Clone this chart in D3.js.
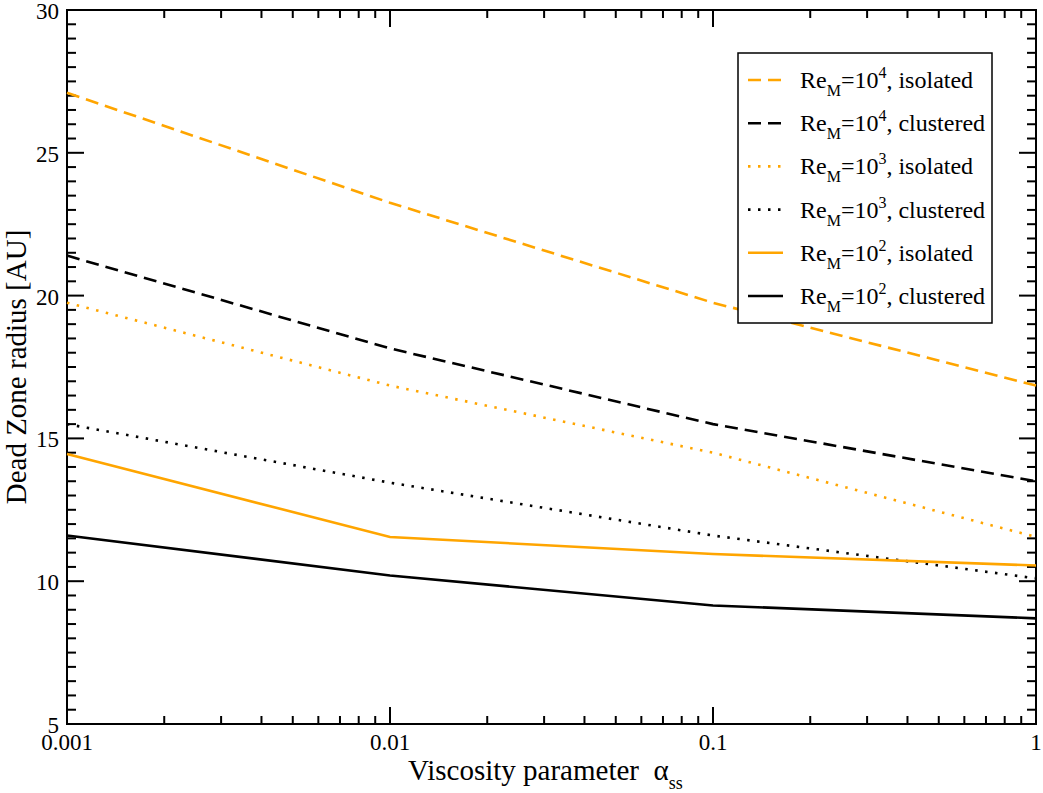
<!DOCTYPE html>
<html>
<head>
<meta charset="utf-8">
<script src="https://cdn.jsdelivr.net/npm/d3@7"></script>
<style>
  body { margin: 0; background: #fff; }
  text { font-family: "Liberation Serif", "Times New Roman", serif; fill: #000; }
</style>
</head>
<body>
<script>
// data
const alpha = [0.001, 0.01, 0.1, 1];
const re4Isolated  = [27.1, 23.25, 19.75, 16.85];
const re4Clustered = [21.4, 18.15, 15.5, 13.5];
const re3Isolated  = [19.75, 16.85, 14.5, 11.55];
const re3Clustered = [15.5, 13.45, 11.6, 10.1];
const re2Isolated  = [14.45, 11.55, 10.95, 10.55];
const re2Clustered = [11.6, 10.2, 9.15, 8.7];
const exponents = ["4", "4", "3", "3", "2", "2"];
const kinds = ["isolated", "clustered", "isolated", "clustered", "isolated", "clustered"];
const xTickLabels = ["0.001", "0.01", "0.1", "1"];
const yTicks = [5, 10, 15, 20, 25, 30];

const orange = "#ffa500";
const series = [
  { values: re4Isolated,  color: orange, dash: "13,7" },
  { values: re4Clustered, color: "#000", dash: "13,7" },
  { values: re3Isolated,  color: orange, dash: "2.5,7.5" },
  { values: re3Clustered, color: "#000", dash: "2.5,7.5" },
  { values: re2Isolated,  color: orange, dash: null },
  { values: re2Clustered, color: "#000", dash: null }
];

const width = 1043, height = 793;
const margin = { top: 10, right: 7, bottom: 69, left: 67 };

const svg = d3.select("body").append("svg")
  .attr("width", width)
  .attr("height", height);

const x = d3.scaleLog().domain([0.001, 1]).range([margin.left, width - margin.right]);
const y = d3.scaleLinear().domain([5, 30]).range([height - margin.bottom, margin.top]);

const x0 = x.range()[0], x1 = x.range()[1];
const y0 = y.range()[0], y1 = y.range()[1];

// minor / major ticks, all pointing inward on the four sides
const xMajor = alpha;
const xMinor = [];
for (let d = 0.001; d < 1; d *= 10) {
  for (let m = 2; m <= 9; m++) xMinor.push(d * m);
}
const yMinor = d3.range(5, 30.01, 0.5).filter(v => !yTicks.includes(v));

const ticks = svg.append("g").attr("stroke", "#000").attr("stroke-width", 2);

function xTick(v, len) {
  ticks.append("line").attr("x1", x(v)).attr("x2", x(v)).attr("y1", y0).attr("y2", y0 - len);
  ticks.append("line").attr("x1", x(v)).attr("x2", x(v)).attr("y1", y1).attr("y2", y1 + len);
}
function yTick(v, len) {
  ticks.append("line").attr("x1", x0).attr("x2", x0 + len).attr("y1", y(v)).attr("y2", y(v));
  ticks.append("line").attr("x1", x1).attr("x2", x1 - len).attr("y1", y(v)).attr("y2", y(v));
}
xMinor.forEach(v => xTick(v, 8));
xMajor.forEach(v => xTick(v, 17));
yMinor.forEach(v => yTick(v, 9));
yTicks.forEach(v => yTick(v, 17));

// frame
svg.append("rect")
  .attr("x", x0).attr("y", y1)
  .attr("width", x1 - x0).attr("height", y0 - y1)
  .attr("fill", "none").attr("stroke", "#000").attr("stroke-width", 2);

// tick labels
svg.append("g").selectAll("text").data(yTicks).join("text")
  .attr("x", x0 - 8)
  .attr("y", d => y(d) + 1)
  .attr("dy", "0.35em")
  .attr("text-anchor", "end")
  .attr("font-size", 23)
  .text(d => d);

svg.append("g").selectAll("text").data(alpha).join("text")
  .attr("x", d => x(d))
  .attr("y", y0 + 26)
  .attr("text-anchor", "middle")
  .attr("font-size", 23)
  .text((d, i) => xTickLabels[i]);

// axis titles
const xt = svg.append("text")
  .attr("x", 408)
  .attr("y", 780)
  .attr("font-size", 29);
xt.append("tspan").text("Viscosity parameter\u00a0\u00a0\u03b1");
xt.append("tspan").attr("font-size", 18).attr("dy", 9).text("ss");

svg.append("text")
  .attr("transform", "translate(26," + ((y0 + y1) / 2) + ") rotate(-90)")
  .attr("text-anchor", "middle")
  .attr("font-size", 29)
  .text("Dead Zone radius [AU]");

// lines
const line = d3.line()
  .x((d, i) => x(alpha[i]))
  .y(d => y(d));

svg.append("g").selectAll("path").data(series).join("path")
  .attr("d", d => line(d.values))
  .attr("fill", "none")
  .attr("stroke", d => d.color)
  .attr("stroke-width", 2.6)
  .attr("stroke-dasharray", d => d.dash);

// legend
const legend = svg.append("g");
legend.append("rect")
  .attr("x", 738).attr("y", 53)
  .attr("width", 254).attr("height", 270)
  .attr("fill", "#fff").attr("stroke", "#000").attr("stroke-width", 1.5);

series.forEach((s, i) => {
  const ly = 80 + i * 43.2;
  legend.append("line")
    .attr("x1", 748).attr("x2", 783)
    .attr("y1", ly).attr("y2", ly)
    .attr("stroke", s.color)
    .attr("stroke-width", 2.6)
    .attr("stroke-dasharray", s.dash);
  const t = legend.append("text")
    .attr("x", 800).attr("y", ly + 8)
    .attr("font-size", 24);
  t.append("tspan").text("Re");
  t.append("tspan").attr("font-size", 16).attr("dy", 8).text("M");
  t.append("tspan").attr("dy", -8).text("=10");
  t.append("tspan").attr("font-size", 16).attr("dy", -10).text(exponents[i]);
  t.append("tspan").attr("dy", 10).text(", " + kinds[i]);
});
</script>
</body>
</html>
